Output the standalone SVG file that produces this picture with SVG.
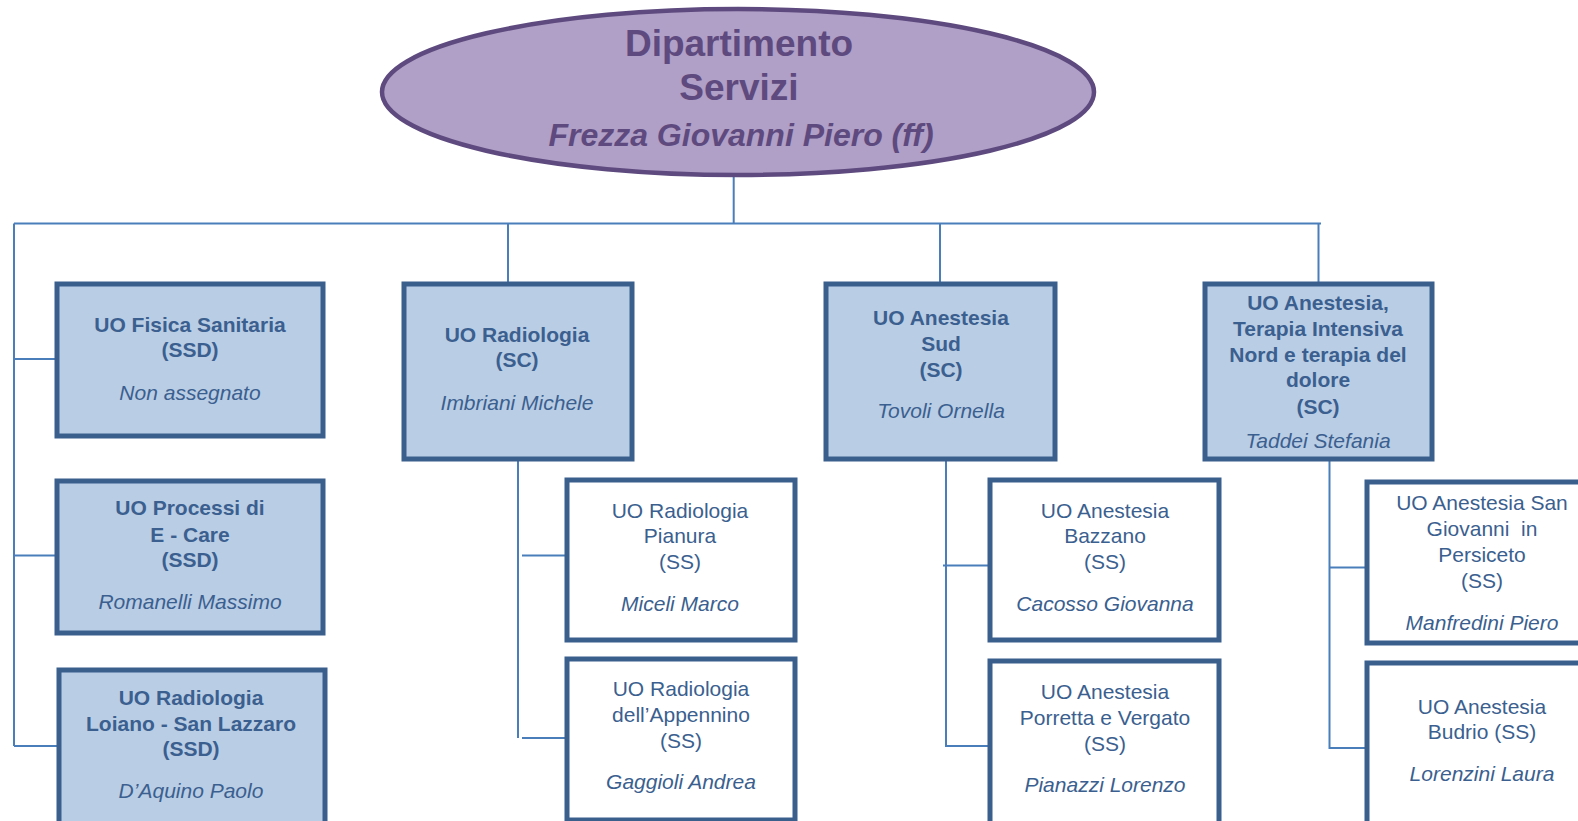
<svg xmlns="http://www.w3.org/2000/svg" width="1578" height="821" viewBox="0 0 1578 821">
<style>
.ln{stroke:#4A7EBB;stroke-width:2;fill:none}
.main{fill:#B9CDE5;stroke:#3B5F8D;stroke-width:5}
.ss{fill:#FFFFFF;stroke:#3B5F8D;stroke-width:5}
text{font-family:"Liberation Sans",Arial,sans-serif;fill:#3B5F8F;text-anchor:middle;font-size:21px}
.b{font-weight:bold}
.i{font-style:italic}
text.dep{fill:#5E4A7E;font-weight:bold;font-size:37px}
text.dep2{fill:#5E4A7E;font-weight:bold;font-style:italic;font-size:32px}
</style>
<rect width="1578" height="821" fill="#FFFFFF"/>
<g id="connectors">
<path class="ln" d="M733.7,176 V223.4 M14,223.4 H1321 M508,223.4 V284 M940,223.4 V284 M1318.5,223.4 V284"/>
<path class="ln" d="M14,223.4 V746 M14,359 H56 M14,555.5 H56 M14,746 H58"/>
<path class="ln" d="M518,452 V738 M522,555.5 H566 M522,738 H566"/>
<path class="ln" d="M946,459 V746 H990 M943,565.5 H990"/>
<path class="ln" d="M1329.5,452 V748 H1367 M1329.5,567.6 H1367"/>
</g>
<g id="root">
<ellipse cx="738" cy="92" rx="356" ry="83" fill="#B09FC6" stroke="#5E4A7E" stroke-width="4.5"/>
<text class="dep" x="739" y="56">Dipartimento</text>
<text class="dep" x="739" y="100">Servizi</text>
<text class="dep2" x="741" y="146">Frezza Giovanni Piero (ff)</text>
</g>
<g id="fisica">
<rect class="main" x="57" y="284" width="266" height="152"/>
<text class="b" x="190" y="332">UO Fisica Sanitaria</text>
<text class="b" x="190" y="357">(SSD)</text>
<text class="i" x="190" y="399.5">Non assegnato</text>
</g>
<g id="ecare">
<rect class="main" x="57" y="481" width="266" height="152"/>
<text class="b" x="190" y="515">UO Processi di</text>
<text class="b" x="190" y="541.5">E - Care</text>
<text class="b" x="190" y="566.5">(SSD)</text>
<text class="i" x="190" y="609">Romanelli Massimo</text>
</g>
<g id="loiano">
<rect class="main" x="59" y="670" width="266" height="170"/>
<text class="b" x="191" y="704.5">UO Radiologia</text>
<text class="b" x="191" y="730.5">Loiano - San Lazzaro</text>
<text class="b" x="191" y="756">(SSD)</text>
<text class="i" x="191" y="798">D’Aquino Paolo</text>
</g>
<g id="radiologia">
<rect class="main" x="404" y="284" width="228" height="175"/>
<text class="b" x="517" y="342">UO Radiologia</text>
<text class="b" x="517" y="367">(SC)</text>
<text class="i" x="517" y="409.5">Imbriani Michele</text>
</g>
<g id="anestesiasud">
<rect class="main" x="826" y="284" width="229" height="175"/>
<text class="b" x="941" y="325">UO Anestesia</text>
<text class="b" x="941" y="351">Sud</text>
<text class="b" x="941" y="377">(SC)</text>
<text class="i" x="941" y="417.5">Tovoli Ornella</text>
</g>
<g id="terapia">
<rect class="main" x="1205" y="284" width="227" height="175"/>
<text class="b" x="1318" y="310">UO Anestesia,</text>
<text class="b" x="1318" y="336">Terapia Intensiva</text>
<text class="b" x="1318" y="362">Nord e terapia del</text>
<text class="b" x="1318" y="387">dolore</text>
<text class="b" x="1318" y="413.5">(SC)</text>
<text class="i" x="1318" y="448">Taddei Stefania</text>
</g>
<g id="pianura">
<rect class="ss" x="567" y="480" width="228" height="160"/>
<text x="680" y="518">UO Radiologia</text>
<text x="680" y="542.5">Pianura</text>
<text x="680" y="568.5">(SS)</text>
<text class="i" x="680" y="611">Miceli Marco</text>
</g>
<g id="appennino">
<rect class="ss" x="567" y="659" width="228" height="161"/>
<text x="681" y="696">UO Radiologia</text>
<text x="681" y="721.5">dell’Appennino</text>
<text x="681" y="747.5">(SS)</text>
<text class="i" x="681" y="789">Gaggioli Andrea</text>
</g>
<g id="bazzano">
<rect class="ss" x="990" y="480" width="229" height="160"/>
<text x="1105" y="518">UO Anestesia</text>
<text x="1105" y="542.5">Bazzano</text>
<text x="1105" y="568.5">(SS)</text>
<text class="i" x="1105" y="611">Cacosso Giovanna</text>
</g>
<g id="porretta">
<rect class="ss" x="990" y="661" width="229" height="175"/>
<text x="1105" y="699">UO Anestesia</text>
<text x="1105" y="724.5">Porretta e Vergato</text>
<text x="1105" y="750.5">(SS)</text>
<text class="i" x="1105" y="792">Pianazzi Lorenzo</text>
</g>
<g id="sangiovanni">
<rect class="ss" x="1367" y="482" width="230" height="161"/>
<text x="1482" y="510" xml:space="preserve">UO Anestesia San</text>
<text x="1482" y="536" xml:space="preserve">Giovanni  in</text>
<text x="1482" y="561.5">Persiceto</text>
<text x="1482" y="587.5">(SS)</text>
<text class="i" x="1482" y="630">Manfredini Piero</text>
</g>
<g id="budrio">
<rect class="ss" x="1367" y="663" width="230" height="175"/>
<text x="1482" y="713.5">UO Anestesia</text>
<text x="1482" y="738.5">Budrio (SS)</text>
<text class="i" x="1482" y="781">Lorenzini Laura</text>
</g>
</svg>
